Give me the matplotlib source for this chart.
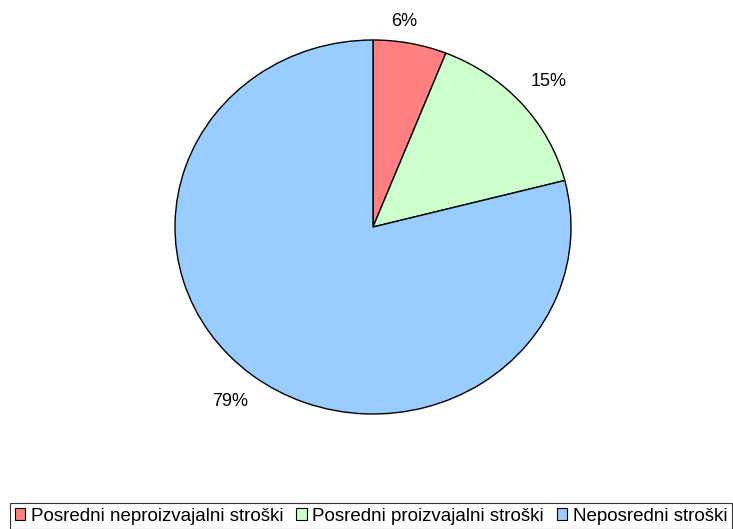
import matplotlib

matplotlib.use("Agg")
import matplotlib.pyplot as plt
from matplotlib.patches import Rectangle

categories = ["Posredni neproizvajalni stroški", "Posredni proizvajalni stroški", "Neposredni stroški"]
shares = [6, 15, 79]
colors = ["#ff8080", "#ccffcc", "#99ccff"]

W, H = 733, 529
plt.rcParams["font.family"] = ["Liberation Sans", "DejaVu Sans"]

fig = plt.figure(figsize=(W / 100, H / 100), dpi=100, facecolor="white")

# pie area in pixels: left, top, right, bottom (slightly wider than tall)
px_l, px_t, px_r, px_b = 175, 40, 571, 414
ax = fig.add_axes([px_l / W, 1 - px_b / H, (px_r - px_l) / W, (px_b - px_t) / H])

wedges, _, pct = ax.pie(
    shares,
    colors=colors,
    startangle=90,
    counterclock=False,
    radius=1.0,
    autopct="%1.0f%%",
    pctdistance=1.18,
    wedgeprops=dict(edgecolor="black", linewidth=1.0),
    textprops=dict(fontsize=13, color="black"),
)
# the small first slice gets its label pulled in toward the top
pct[0].set_position((0.16, 1.10))

ax.set_aspect("auto")
ax.set_xlim(-1, 1)
ax.set_ylim(-1, 1)
ax.set_frame_on(False)
ax.set_xticks([])
ax.set_yticks([])

handles = [Rectangle((0, 0), 1, 1, facecolor=c, edgecolor="black", linewidth=0.8) for c in colors]
leg = fig.legend(
    handles,
    categories,
    loc="upper left",
    bbox_to_anchor=(10 / W, 1 - 503 / H),
    ncol=3,
    fontsize=13.5,
    frameon=True,
    fancybox=False,
    borderaxespad=0,
    borderpad=0.25,
    handlelength=0.55,
    handleheight=0.55,
    handletextpad=0.3,
    columnspacing=0.7,
)
leg.get_frame().set_edgecolor("black")
leg.get_frame().set_linewidth(0.8)

fig.savefig("out.png", dpi=100, facecolor="white")
